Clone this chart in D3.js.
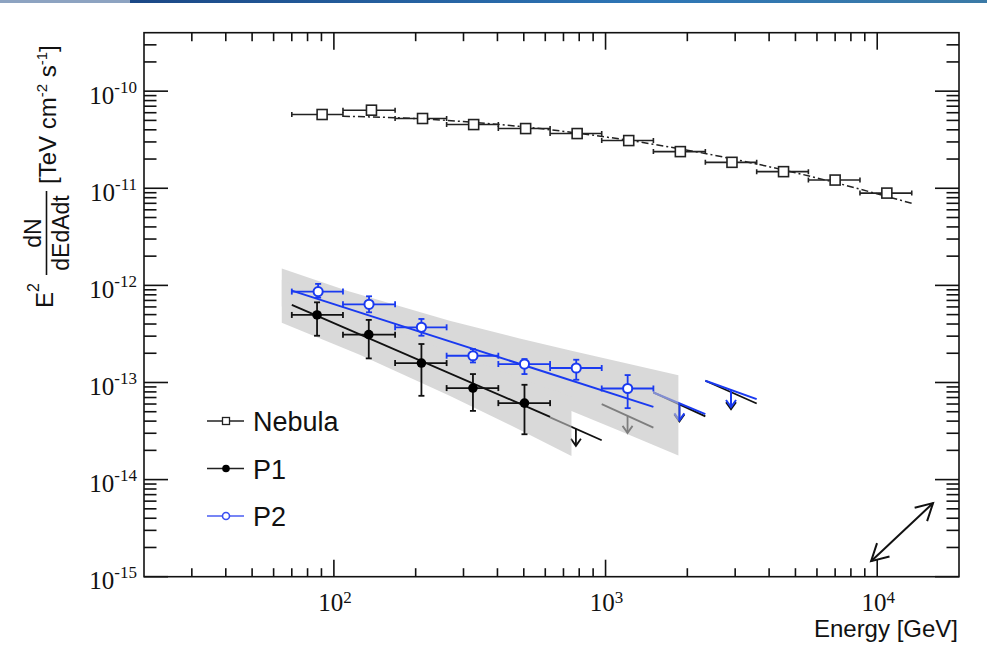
<!DOCTYPE html>
<html><head><meta charset="utf-8">
<script src="https://cdn.jsdelivr.net/npm/d3@7"></script>
<style>body{margin:0;background:#fff}svg{display:block}</style>
</head><body><svg id="c" width="987" height="647"></svg>
<script>
// ---------- data ----------
const binEdges = [70, 108, 168, 260, 403, 625, 968, 1500, 2330, 3600, 5580, 8640, 13400];

const nebulaE = [90.5, 137.5, 212, 327, 508, 786, 1217, 1885, 2920, 4520, 7000, 10850];
const nebulaF = [5.75e-11, 6.37e-11, 5.23e-11, 4.53e-11, 4.12e-11, 3.66e-11, 3.10e-11, 2.385e-11, 1.85e-11, 1.483e-11, 1.215e-11, 8.92e-12];
const nebulaFitE = [108, 200, 500, 1000, 2000, 5000, 13400];
const nebulaFitF = [5.52e-11, 5.22e-11, 4.29e-11, 3.38e-11, 2.47e-11, 1.445e-11, 7.0e-12];

const p1E  = [86.7, 134.4, 210, 325, 503];
const p1F  = [4.96e-13, 3.11e-13, 1.585e-13, 8.76e-14, 6.13e-14];
const p1Hi = [6.69e-13, 4.41e-13, 2.49e-13, 1.221e-13, 9.47e-14];
const p1Lo = [3.03e-13, 1.77e-13, 7.29e-14, 5.1e-14, 2.93e-14];
const p1FitE = [70, 625];
const p1FitF = [6.29e-13, 4.43e-14];

const p2E  = [87.5, 134.7, 210, 325, 503, 780, 1206];
const p2F  = [8.63e-13, 6.38e-13, 3.70e-13, 1.886e-13, 1.549e-13, 1.41e-13, 8.67e-14];
const p2Hi = [1.036e-12, 7.72e-13, 4.51e-13, 2.21e-13, 1.743e-13, 1.715e-13, 1.192e-13];
const p2Lo = [7.48e-13, 5.28e-13, 3.03e-13, 1.608e-13, 1.221e-13, 1.067e-13, 5.44e-14];
const p2FitE = [70, 1500];
const p2FitF = [8.83e-13, 5.61e-14];

const p1BandE  = [64.3, 124.5, 266.7, 482.6, 749];
const p1BandHi = [1.142e-12, 4.95e-13, 2.074e-13, 1.110e-13, 7.12e-14];
const p1BandLo = [4.13e-13, 1.931e-13, 7.32e-14, 3.26e-14, 1.752e-14];
const p2BandE  = [64.3, 112.5, 266.7, 482.6, 749, 1125, 1854];
const p2BandHi = [1.494e-12, 8.73e-13, 4.32e-13, 2.845e-13, 2.12e-13, 1.632e-13, 1.187e-13];
const p2BandLo = [6.06e-13, 3.785e-13, 1.608e-13, 8.39e-14, 5.09e-14, 3.18e-14, 1.773e-14];

const p1UlELo = [625, 968, 1500, 2330];
const p1UlEHi = [968, 1500, 2330, 3600];
const p1UlFStart = [4.37e-14, 5.98e-14, 7.9e-14, 1.041e-13];
const p1UlFEnd   = [2.54e-14, 3.43e-14, 4.48e-14, 6.07e-14];
const p2UlELo = [1500, 2330];
const p2UlEHi = [2330, 3600];
const p2UlFStart = [7.88e-14, 1.041e-13];
const p2UlFEnd   = [4.72e-14, 6.74e-14];

const sysArrowE = [9495, 16050];
const sysArrowF = [1.445e-15, 5.73e-15];

const legendNames = ["Nebula", "P1", "P2"];
const xTitle = "Energy [GeV]";

// ---------- setup ----------
const BLACK = "#111", BLUE = "#1a3af0";
const svg = d3.select("#c");
const x = d3.scaleLog().domain([20, 20000]).range([144, 959]);
const y = d3.scaleLog().domain([1e-15, 4e-10]).range([576.7, 32.7]);
const X0 = 144, X1 = 959, Y0 = 576.7, Y1 = 32.7;

const defs = svg.append("defs");
const grad = defs.append("linearGradient").attr("id", "topbar");
grad.append("stop").attr("offset", "0%").attr("stop-color", "#1b4886");
grad.append("stop").attr("offset", "60%").attr("stop-color", "#2e76b6");
grad.append("stop").attr("offset", "100%").attr("stop-color", "#3b7aa6");
defs.append("clipPath").attr("id", "plotclip").append("rect")
  .attr("x", X0).attr("y", Y1).attr("width", X1 - X0).attr("height", Y0 - Y1);

// top slide strip
svg.append("rect").attr("x", 0).attr("y", 0).attr("width", 130).attr("height", 3).attr("fill", "#8da3c1");
svg.append("rect").attr("x", 130).attr("y", 0).attr("width", 857).attr("height", 3).attr("fill", "url(#topbar)");

const plot = svg.append("g").attr("clip-path", "url(#plotclip)");

// ---------- upper limits (drawn under the bands) ----------
function drawUL(eLo, eHi, fS, fE, color, w) {
  eLo.forEach((e, i) => {
    const xa = x(e), ya = y(fS[i]), xb = x(eHi[i]), yb = y(fE[i]);
    plot.append("line").attr("x1", xa).attr("y1", ya).attr("x2", xb).attr("y2", yb)
      .attr("stroke", color).attr("stroke-width", w);
    const mx = (xa + xb) / 2, my = (ya + yb) / 2;
    plot.append("line").attr("x1", mx).attr("y1", my).attr("x2", mx).attr("y2", my + 17)
      .attr("stroke", color).attr("stroke-width", w);
    plot.append("polyline").attr("points", `${mx-5},${my+10} ${mx},${my+17} ${mx+5},${my+10}`)
      .attr("fill", "none").attr("stroke", color).attr("stroke-width", w);
  });
}
drawUL(p1UlELo, p1UlEHi, p1UlFStart, p1UlFEnd, BLACK, 1.8);
drawUL(p2UlELo, p2UlEHi, p2UlFStart, p2UlFEnd, BLUE, 2.0);

// ---------- bands (union drawn with one group opacity) ----------
const area = d3.area().x(d => x(d.e)).y0(d => y(d.lo)).y1(d => y(d.hi));
const p2Band = p2BandE.map((e, i) => ({e, lo: p2BandLo[i], hi: p2BandHi[i]}));
const p1Band = p1BandE.map((e, i) => ({e, lo: p1BandLo[i], hi: p1BandHi[i]}));
const bands = plot.append("g").attr("opacity", 0.62);
bands.append("path").attr("d", area(p2Band)).attr("fill", "#c2c2c2");
bands.append("path").attr("d", area(p1Band)).attr("fill", "#c2c2c2");

// ---------- Nebula ----------
const line = d3.line().x(d => x(d[0])).y(d => y(d[1]));
plot.append("path").attr("d", d3.line().x(d => x(d[0])).y(d => y(d[1])).curve(d3.curveMonotoneX)(nebulaFitE.map((e, i) => [e, nebulaFitF[i]])))
  .attr("fill", "none").attr("stroke", "#222").attr("stroke-width", 1.5).attr("stroke-dasharray", "7,3,2,3");

function hbar(g, eLo, eHi, f, color, w, cap) {
  const yy = y(f), xa = x(eLo), xb = x(eHi);
  g.append("line").attr("x1", xa).attr("y1", yy).attr("x2", xb).attr("y2", yy).attr("stroke", color).attr("stroke-width", w);
  [xa, xb].forEach(xx => g.append("line").attr("x1", xx).attr("x2", xx).attr("y1", yy - cap).attr("y2", yy + cap)
    .attr("stroke", color).attr("stroke-width", w));
}
function vbar(g, e, lo, hi, color, w, cap) {
  const xx = x(e), ya = y(lo), yb = y(hi);
  g.append("line").attr("x1", xx).attr("x2", xx).attr("y1", ya).attr("y2", yb).attr("stroke", color).attr("stroke-width", w);
  [ya, yb].forEach(yy => g.append("line").attr("x1", xx - cap).attr("x2", xx + cap).attr("y1", yy).attr("y2", yy)
    .attr("stroke", color).attr("stroke-width", w));
}

nebulaE.forEach((e, i) => hbar(plot, binEdges[i], binEdges[i + 1], nebulaF[i], "#222", 1.6, 2.5));
plot.selectAll(".neb").data(nebulaE).enter().append("rect")
  .attr("x", (d) => x(d) - 5).attr("y", (d, i) => y(nebulaF[i]) - 5)
  .attr("width", 10).attr("height", 10).attr("fill", "#fff").attr("stroke", "#222").attr("stroke-width", 1.6);

// ---------- P1 / P2 fits ----------
plot.append("path").attr("d", line(p1FitE.map((e, i) => [e, p1FitF[i]])))
  .attr("fill", "none").attr("stroke", BLACK).attr("stroke-width", 1.8);
plot.append("path").attr("d", line(p2FitE.map((e, i) => [e, p2FitF[i]])))
  .attr("fill", "none").attr("stroke", BLUE).attr("stroke-width", 2);

// P1 points
p1E.forEach((e, i) => {
  hbar(plot, binEdges[i], binEdges[i + 1], p1F[i], BLACK, 1.8, 3);
  vbar(plot, e, p1Lo[i], p1Hi[i], BLACK, 1.8, 3);
});
plot.selectAll(".p1").data(p1E).enter().append("circle")
  .attr("cx", d => x(d)).attr("cy", (d, i) => y(p1F[i])).attr("r", 4.8).attr("fill", "#000");

// P2 points
p2E.forEach((e, i) => {
  hbar(plot, binEdges[i], binEdges[i + 1], p2F[i], BLUE, 1.8, 3);
  vbar(plot, e, p2Lo[i], p2Hi[i], BLUE, 1.8, 3);
});
plot.selectAll(".p2").data(p2E).enter().append("circle")
  .attr("cx", d => x(d)).attr("cy", (d, i) => y(p2F[i])).attr("r", 4.6)
  .attr("fill", "#fff").attr("stroke", BLUE).attr("stroke-width", 2);

// ---------- systematic double arrow ----------
{
  const xa = x(sysArrowE[0]), ya = y(sysArrowF[0]), xb = x(sysArrowE[1]), yb = y(sysArrowF[1]);
  plot.append("line").attr("x1", xa).attr("y1", ya).attr("x2", xb).attr("y2", yb).attr("stroke", BLACK).attr("stroke-width", 2);
  const ang = Math.atan2(yb - ya, xb - xa), L = 19, s = 0.5;
  const head = (px, py, a) => `${px + L * Math.cos(a + s)},${py + L * Math.sin(a + s)} ${px},${py} ${px + L * Math.cos(a - s)},${py + L * Math.sin(a - s)}`;
  plot.append("polyline").attr("points", head(xa, ya, ang)).attr("fill", "none").attr("stroke", BLACK).attr("stroke-width", 2);
  plot.append("polyline").attr("points", head(xb, yb, ang + Math.PI)).attr("fill", "none").attr("stroke", BLACK).attr("stroke-width", 2);
}

// ---------- axes frame & ticks ----------
const ax = svg.append("g").attr("stroke", "#111").attr("stroke-width", 1.6);
ax.append("rect").attr("x", X0).attr("y", Y1).attr("width", X1 - X0).attr("height", Y0 - Y1).attr("fill", "none");
const isMajor = t => Math.abs(Math.log10(t) - Math.round(Math.log10(t))) < 1e-9;
x.ticks().forEach(t => {
  const X = x(t); if (X <= X0 + 0.5 || X >= X1 - 0.5) return;
  const L = isMajor(t) ? 17 : 8.5;
  ax.append("line").attr("x1", X).attr("x2", X).attr("y1", Y0).attr("y2", Y0 - L);
  ax.append("line").attr("x1", X).attr("x2", X).attr("y1", Y1).attr("y2", Y1 + L);
});
y.ticks().forEach(t => {
  const Y = y(t); if (Y >= Y0 - 0.5 || Y <= Y1 + 0.5) { if (!isMajor(t)) return; }
  const L = isMajor(t) ? 24 : 12.5;
  ax.append("line").attr("x1", X0).attr("x2", X0 + L).attr("y1", Y).attr("y2", Y);
  ax.append("line").attr("x1", X1).attr("x2", X1 - L).attr("y1", Y).attr("y2", Y);
});

// tick labels
const serif = "'Liberation Serif', 'DejaVu Serif', serif";
x.ticks().filter(isMajor).forEach(t => {
  const tx = svg.append("text").attr("x", x(t) + 1).attr("y", 611).attr("text-anchor", "middle")
    .attr("font-family", serif).attr("font-size", 25).attr("fill", "#111");
  tx.append("tspan").text("10");
  tx.append("tspan").attr("dy", -8).attr("font-size", 17).text(String(Math.round(Math.log10(t))));
});
y.ticks().filter(isMajor).forEach(t => {
  const ty = svg.append("text").attr("x", 137).attr("y", y(t) + 12.5).attr("text-anchor", "end")
    .attr("font-family", serif).attr("font-size", 25).attr("fill", "#111");
  ty.append("tspan").text("10");
  ty.append("tspan").attr("dy", -11).attr("font-size", 17).text(String(Math.round(Math.log10(t))));
});

// axis titles
const sans = "'Liberation Sans', Arial, Helvetica, sans-serif";
svg.append("text").attr("x", 958).attr("y", 637).attr("text-anchor", "end")
  .attr("font-family", sans).attr("font-size", 24).attr("fill", "#111").text(xTitle);

const yt = svg.append("g").attr("transform", "rotate(-90)").attr("font-family", sans).attr("fill", "#111");
{
  const e2 = yt.append("text").attr("x", -308).attr("y", 53).attr("font-size", 24);
  e2.append("tspan").text("E");
  e2.append("tspan").attr("dy", -14).attr("font-size", 16).text("2");
  yt.append("text").attr("x", -233).attr("y", 41).attr("text-anchor", "middle").attr("font-size", 23).text("dN");
  yt.append("text").attr("x", -233).attr("y", 69).attr("text-anchor", "middle").attr("font-size", 23).text("dEdAdt");
  yt.append("line").attr("x1", -275).attr("x2", -191).attr("y1", 46.5).attr("y2", 46.5).attr("stroke", "#111").attr("stroke-width", 1.6);
  const br = yt.append("text").attr("x", -184).attr("y", 56).attr("font-size", 24);
  br.append("tspan").text("[TeV cm");
  br.append("tspan").attr("dy", -9).attr("font-size", 15).text("-2");
  br.append("tspan").attr("dy", 9).text(" s");
  br.append("tspan").attr("dy", -9).attr("font-size", 15).text("-1");
  br.append("tspan").attr("dy", 9).text("]");
}

// ---------- legend ----------
const legY = [421, 468.5, 516];
const leg = svg.append("g");
legendNames.forEach((name, i) => {
  const ly = legY[i];
  const col = i === 2 ? "#4a5cf2" : "#222";
  leg.append("line").attr("x1", 207).attr("x2", 244).attr("y1", ly).attr("y2", ly).attr("stroke", col).attr("stroke-width", 1.4);
  if (i === 0) leg.append("rect").attr("x", 222.5).attr("y", ly - 3.5).attr("width", 7).attr("height", 7)
    .attr("fill", "#fff").attr("stroke", "#222").attr("stroke-width", 1.3);
  if (i === 1) leg.append("circle").attr("cx", 226).attr("cy", ly).attr("r", 3.8).attr("fill", "#000");
  if (i === 2) leg.append("circle").attr("cx", 226).attr("cy", ly).attr("r", 3.5).attr("fill", "#fff")
    .attr("stroke", "#3a4ef2").attr("stroke-width", 1.6);
  leg.append("text").attr("x", 253).attr("y", ly + 10).attr("font-family", sans).attr("font-size", 27)
    .attr("fill", "#111").text(name);
});
</script></body></html>
